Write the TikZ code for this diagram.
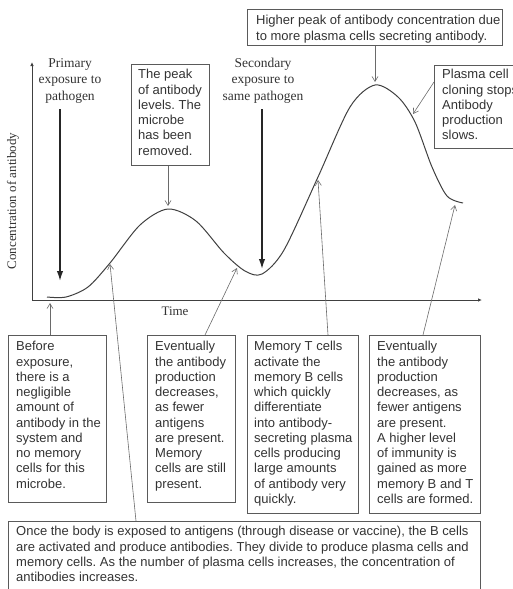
\documentclass[tikz,border=0pt]{standalone}
\usepackage{fontspec}
\setmainfont{Liberation Serif}
\setsansfont{Liberation Sans}
\usetikzlibrary{arrows.meta,calc}
\definecolor{ink}{HTML}{333333}
\definecolor{frame}{HTML}{5A5A5A}
\definecolor{curvegray}{HTML}{404040}
\definecolor{ptrgray}{HTML}{6A6A6A}
\frenchspacing
\begin{document}
\begin{tikzpicture}[x=1pt,y=-1pt,
  panel/.style={draw=frame,line width=0.8pt,inner sep=0pt,anchor=north west},
  note/.style={font=\sffamily\fontsize{13}{15.25}\selectfont,text=ink,align=left,
    anchor=north west,inner sep=0pt,execute at begin node=\strut},
  serifnote/.style={font=\rmfamily\fontsize{13.5}{16.5}\selectfont,text=ink,align=center,inner sep=0pt},
  pointer/.style={draw=ptrgray,line width=0.6pt,-{Straight Barb[length=5pt,width=6pt]}},
  onset/.style={draw=black!85,line width=1.5pt,-{Latex[length=10pt,width=6.5pt]}},
  axis/.style={draw=curvegray,line width=0.8pt,-{Latex[length=4pt,width=3.5pt]}},
  response/.style={draw=curvegray,line width=1pt,line join=round}]

\useasboundingbox (0,0) rectangle (513,589);

% axes
\coordinate (o) at (32,300);
\coordinate (ytop) at (32,62);
\coordinate (xend) at (482,300);
\draw[axis] (o) -- (ytop);
\draw[axis] (o) -- (xend);
\node[serifnote,font=\rmfamily\fontsize{13}{16}\selectfont,rotate=90] (ylab) at (13,201) {Concentration of antibody};
\node[serifnote,font=\rmfamily\fontsize{13}{16}\selectfont,anchor=base] (xlab) at (175,315) {Time};

% antibody concentration over time
\draw[response] plot[smooth,tension=0.5] coordinates {
  (47,297) (66,297) (88,287) (110,263) (140,225) (168,209) (196,221) (224,253)
  (245,271) (262,274) (284,250) (318,177) (350,107) (375,85) (398,97)
  (415,122) (432,167) (447,196) (463,203)};

% points on the curve
\coordinate (c0) at (50,303);
\coordinate (c1) at (110,264);
\coordinate (c2) at (237,268);
\coordinate (c3) at (318,180);
\coordinate (c4) at (455,205);
\coordinate (pk1) at (168,206);
\coordinate (pk2) at (375,82);
\coordinate (fall) at (413,114);
\coordinate (e1) at (60,281);
\coordinate (e2) at (262,269);

% exposure labels and arrows
\node[serifnote,anchor=north] (prim) at (70,55.5) {\strut Primary\\exposure to\\pathogen};
\node[serifnote,anchor=north] (sec) at (263,55.5) {\strut Secondary\\exposure to\\same pathogen};
\draw[onset,shorten <=6pt] (prim.south -| e1) -- (e1);
\draw[onset,shorten <=6pt] (sec.south -| e2) -- (e2);

% upper boxes
\node[panel,minimum width=78pt,minimum height=101pt] (bpk) at (131,64) {};
\node[note] (tpk) at (138,69.3) {The peak\\of antibody\\levels. The\\microbe\\has been\\removed.};
\node[panel,minimum width=255pt,minimum height=36pt] (bhi) at (247,9) {};
\node[note] (thi) at (256,15.3) {Higher peak of antibody concentration due\\to more plasma cells secreting antibody.};
\node[panel,minimum width=100pt,minimum height=83pt] (bpl) at (434,65) {};
\node[note] (tpl) at (442,69.3) {Plasma cell\\cloning stops\\Antibody\\production\\slows.};

\draw[pointer] (bpk.south -| pk1) -- (pk1);
\draw[pointer] (bhi.south -| pk2) -- (pk2);
\draw[pointer] ($(bpl.north west)+(0,17)$) -- (fall);

% lower boxes
\node[panel,minimum width=98pt,minimum height=167pt] (b1) at (8,335) {};
\node[note] (t1) at (16,341.3) {Before\\exposure,\\there is a\\negligible\\amount of\\antibody in the\\system and\\no memory\\cells for this\\microbe.};
\node[panel,minimum width=88pt,minimum height=167pt] (b2) at (147,335) {};
\node[note] (t2) at (155,341.3) {Eventually\\the antibody\\production\\decreases,\\as fewer\\antigens\\are present.\\Memory\\cells are still\\present.};
\node[panel,minimum width=111pt,minimum height=178pt] (b3) at (247,335) {};
\node[note] (t3) at (254,341.3) {Memory T cells\\activate the\\memory B cells\\which quickly\\differentiate\\into antibody-\\secreting plasma\\cells producing\\large amounts\\of antibody very\\quickly.};
\node[panel,minimum width=111pt,minimum height=178pt] (b4) at (369,335) {};
\node[note] (t4) at (377,341.3) {Eventually\\the antibody\\production\\decreases, as\\fewer antigens\\are present.\\A higher level\\of immunity is\\gained as more\\memory B and T\\cells are formed.};
\node[panel,minimum width=472pt,minimum height=90pt] (bb) at (8,521) {};
\node[note] (tb) at (16,526.3) {Once the body is exposed to antigens (through disease or vaccine), the B cells\\are activated and produce antibodies. They divide to produce plasma cells and\\memory cells. As the number of plasma cells increases, the concentration of\\antibodies increases.};

\draw[pointer] (b1.north -| c0) -- (c0);
\draw[pointer] ($(bb.north west)+(128,0)$) -- (c1);
\draw[pointer] ($(b2.north west)+(58,0)$) -- (c2);
\draw[pointer] ($(b3.north west)+(81,0)$) -- (c3);
\draw[pointer] ($(b4.north west)+(54,0)$) -- (c4);
\end{tikzpicture}
\end{document}
